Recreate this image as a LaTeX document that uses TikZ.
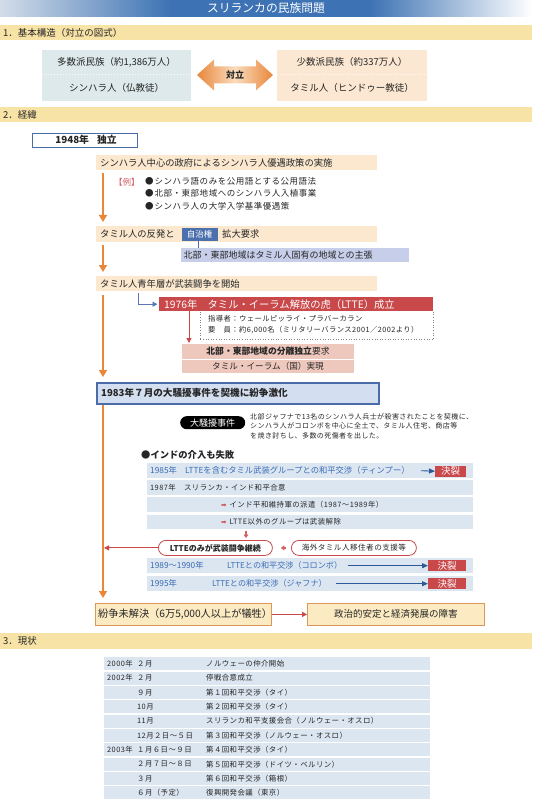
\documentclass[tikz,border=0pt]{standalone}
\usepackage{fontspec}
\setmainfont{Noto Sans CJK JP}
\newfontfamily\spc[LetterSpace=6]{Noto Sans CJK JP}
\newfontfamily\djv{DejaVu Sans}
\usetikzlibrary{arrows.meta}
\definecolor{tblue}{HTML}{3D73B4}
\definecolor{tlight}{HTML}{D3DDE9}
\definecolor{secbar}{HTML}{F8E3A6}
\definecolor{majc}{HTML}{DDE9EA}
\definecolor{minc}{HTML}{FCE8D2}
\definecolor{peach}{HTML}{FBE8CF}
\definecolor{orng}{HTML}{E8873A}
\definecolor{orlight}{HTML}{FADCBE}
\definecolor{jblue}{HTML}{4B70AD}
\definecolor{lav}{HTML}{C7CEEA}
\definecolor{ltred}{HTML}{C9484A}
\definecolor{pinkb}{HTML}{EFC8BD}
\definecolor{bfill}{HTML}{D3DEF0}
\definecolor{bline}{HTML}{4A6CA8}
\definecolor{rowb}{HTML}{DCE6F1}
\definecolor{txtblue}{HTML}{3A6CB5}
\definecolor{arrblue}{HTML}{2C5A98}
\definecolor{elbow}{HTML}{5A76B8}
\definecolor{yelb}{HTML}{FCEBC2}
\definecolor{yeld}{HTML}{D9985A}
\definecolor{exred}{HTML}{D2606A}
\definecolor{txt}{HTML}{262626}
\begin{document}
\begin{tikzpicture}[x=1pt,y=-1pt,
  every node/.style={inner sep=0pt,text=txt},
  bx/.style 2 args={anchor=north west,inner sep=0pt,minimum width=#1,minimum height=#2},
  lt/.style={anchor=west,inner sep=0pt},
  fs/.style={font=\fontsize{#1}{#1}\selectfont},
  fsb/.style={font=\fontsize{#1}{#1}\selectfont\bfseries},
  fsp/.style={font=\spc\fontsize{#1}{#1}\selectfont},
  orarrow/.style={draw=orng,line width=1.6pt,-{Triangle[width=8pt,length=7pt]}},
  rarrow/.style={draw=ltred,line width=1pt,-{Triangle[width=5pt,length=5pt]}},
  rsm/.style={draw=ltred!85,line width=1.6pt,-{Triangle[width=5pt,length=3.5pt]}},
  barrow/.style={draw=arrblue,line width=0.9pt,-{Triangle[width=5pt,length=6pt]}},
  kets/.style={fill=ltred,text=white,font=\fontsize{9.5}{9.5}\selectfont},
  rowbox/.style={bx={326}{15},fill=rowb},
  rnd/.style={bx={#1}{15},draw=ltred,line width=0.8pt,fill=white,rounded corners=7.5pt}
]
\useasboundingbox (0,0) rectangle (532,802);
\fill[white] (0,0) rectangle (532,802);

% title
\shade[left color=tlight,right color=tblue] (0,0) rectangle (170,17);
\fill[tblue] (170,0) rectangle (370,17);
\shade[left color=tblue,right color=white] (370,0) rectangle (532,17);
\node[text=white,fs=11.8] (title) at (266,8.5) {スリランカの民族問題};

% section 1
\node[bx={532}{15},fill=secbar] (sec1) at (0,25) {};
\node[lt,fs=9.5] (sec1t) at ([xshift=3pt]sec1.west) {1．基本構造（対立の図式）};

\node[bx={149}{51},fill=majc] (maj) at (42,50) {};
\node[fs=9.5] (majt) at (116.5,62) {多数派民族（約1,386万人）};
\node[fs=9.5] (majb) at (116.5,88) {シンハラ人（仏教徒）};
\draw[white,line width=1.3pt,dash pattern=on 1.3pt off 1.7pt] ([yshift=1pt]maj.west) -- ([yshift=1pt]maj.east);

\node[bx={150}{51},fill=minc] (mino) at (277,50) {};
\node[fs=9.5] (minot) at (352,62) {少数派民族（約337万人）};
\node[fs=9.5] (minob) at (352,88) {タミル人（ヒンドゥー教徒）};
\draw[white,line width=1.3pt,dash pattern=on 1.3pt off 1.7pt] ([yshift=1pt]mino.west) -- ([yshift=1pt]mino.east);

\shade[left color=orng,right color=orng,middle color=orlight]
  (197,75) -- (214,59.5) -- (214,66.5) -- (256,66.5) -- (256,59.5) -- (273,75)
  -- (256,90.5) -- (256,83.5) -- (214,83.5) -- (214,90.5) -- cycle;
\node[fsb=9] (tai) at (235,75) {対立};

% section 2
\node[bx={532}{15},fill=secbar] (sec2) at (0,107) {};
\node[lt,fs=9.5] (sec2t) at ([xshift=3pt]sec2.west) {2．経緯};

\node[bx={105}{14},fill=white,draw=bline,line width=1pt] (indep) at (32,133) {};
\node[fsb=9.8] (indept) at (86,140) {1948年\hspace{8pt}独立};

\node[bx={281}{15},fill=peach] (policy) at (96,155) {};
\node[lt,fs=9.3] (policyt) at ([xshift=4pt]policy.west) {シンハラ人中心の政府によるシンハラ人優遇政策の実施};

\node[lt,text=exred,fs=8.5] (rei) at (114,182) {【例】};
\node[anchor=north west,align=left,font=\spc\fontsize{8.5}{12.4}\selectfont] (ex) at (145,177) {●\hspace{1pt}シンハラ語のみを公用語とする公用語法\\●\hspace{1pt}北部・東部地域へのシンハラ人入植事業\\●\hspace{1pt}シンハラ人の大学入学基準優遇策};

\node[bx={281}{16},fill=peach] (react) at (96,226) {};
\node[lt,fs=9.3] (reactt) at (100,234) {タミル人の反発と};
\node[bx={36}{13},fill=jblue] (jichi) at (181.5,228) {};
\node[text=white,fs=8.5] (jichit) at (jichi.center) {自治権};
\node[lt,fs=9.3] (reactt2) at (222,234) {拡大要求};

\node[bx={228}{14},fill=lav] (claim) at (181,248) {};
\node[lt,fs=9] (claimt) at ([xshift=2.5pt]claim.west) {北部・東部地域はタミル人固有の地域との主張};
\draw[jblue,line width=0.6pt,double=white,double distance=1.8pt] (jichi.south) -- (jichi.south |- claim.north);

\node[bx={281}{15},fill=peach] (youth) at (96,276) {};
\node[lt,fs=9.3] (youtht) at ([xshift=4pt]youth.west) {タミル人青年層が武装闘争を開始};

\draw[orarrow,shorten <=3pt,shorten >=4pt] ([xshift=7pt]policy.south west) -- ([xshift=7pt]react.north west);
\draw[orarrow,shorten <=3pt,shorten >=4pt] ([xshift=7pt]react.south west) -- ([xshift=7pt]youth.north west);

\node[bx={233}{29},draw=gray,dotted,line width=0.6pt] (lead) at (200,310) {};
\node[anchor=north west,align=left,font=\spc\fontsize{7.3}{11}\selectfont] (leadt) at (208,315) {指導者：ウェールピッライ・プラバーカラン\\要　員：約6,000名（ミリタリーバランス2001／2002より）};

\node[bx={274}{14},fill=ltred] (ltte) at (159,297) {};
\node[lt,text=white,fs=10.3] (ltte_t) at ([xshift=5pt]ltte.west) {1976年　タミル・イーラム解放の虎（LTTE）成立};
\draw[elbow,line width=0.9pt,-{Triangle[width=5pt,length=5pt]},shorten <=2pt,shorten >=1.5pt] ([xshift=42pt]youth.south west) |- (ltte.west);

\node[bx={172}{29},fill=pinkb] (sep) at (182,344) {};
\draw[white,line width=1pt] ([yshift=-0.5pt]sep.west) -- ([yshift=-0.5pt]sep.east);
\node[fs=8.8] (sept) at (268,351.5) {{\bfseries 北部・東部地域の分離独立}要求};
\node[fs=8.6] (sepb) at (268,366) {タミル・イーラム（国）実現};
\draw[rarrow,shorten >=1pt] ([xshift=30pt]ltte.south west) -- ([xshift=30pt]ltte.south west |- sep.north);

\node[bx={282}{21},fill=bfill,draw=bline,line width=1.5pt] (b83) at (96,382) {};
\node[lt,fsb=9.6] (b83t) at ([xshift=5pt]b83.west) {1983年７月の大騒擾事件を契機に紛争激化};

\draw[orarrow,shorten <=4pt,shorten >=5pt] ([xshift=7pt]youth.south west) -- ([xshift=7pt]b83.north west);

\node[bx={65}{13},fill=black,rounded corners=6.5pt] (riot) at (180,416) {};
\node[text=white,fs=9] (riott) at (riot.center) {大騒擾事件};
\node[anchor=north west,align=left,font=\spc\fontsize{7}{9.7}\selectfont] (riotd) at (250,413) {北部ジャフナで13名のシンハラ人兵士が殺害されたことを契機に、\\シンハラ人がコロンボを中心に全土で、タミル人住宅、商店等\\を焼き討ちし、多数の死傷者を出した。};

\node[lt,fsb=9.3] (india) at (141,455) {●インドの介入も失敗};

\node[rowbox] (r85) at (147,463) {};
\node[lt,text=txtblue,fs=8.3] (t85) at (150,470.5) {1985年　LTTEを含むタミル武装グループとの和平交渉（ティンプー）};
\node[bx={31}{11},kets] (k85) at (435,465.5) {決裂};
\draw[barrow] ([xshift=274pt]r85.west) -- (k85.west);

\node[rowbox] (r87) at (147,480) {};
\node[lt,fsp=7.4] (t87) at (150,487.5) {1987年　スリランカ・インド和平合意};

\node[rowbox] (rpk) at (147,497) {};
\node[lt,fsp=7.4] (tpk) at (221,504.5) {{\djv\color{ltred}\fontsize{6.5}{6.5}\selectfont ➡}\hspace{3pt}インド平和維持軍の派遣（1987～1989年）};

\node[bx={326}{14},fill=rowb] (rdis) at (147,515) {};
\node[lt,fsp=7.4] (tdis) at (221,522) {{\djv\color{ltred}\fontsize{6.5}{6.5}\selectfont ➡}\hspace{3pt}LTTE以外のグループは武装解除};

\node[rnd=114,fsb=8] (only) at (158,540) {LTTEのみが武装闘争継続};
\node[rnd=125,fsp=7.6] (supp) at (291,540) {海外タミル人移住者の支援等};
\draw[rsm,shorten <=1.5pt,shorten >=2pt] ([xshift=99pt]rdis.south west) -- ([xshift=99pt]rdis.south west |- only.north);
\draw[rsm,shorten <=5pt,shorten >=8pt] (supp.west) -- (only.east);

\node[rowbox] (r89) at (147,558) {};
\node[lt,text=txtblue,fs=8.3] (y89) at (150,565.5) {1989～1990年};
\node[lt,text=txtblue,fs=8.1] (t89) at (227,565.5) {LTTEとの和平交渉（コロンボ）};
\node[bx={38}{11},kets] (k89) at (428,560) {決裂};
\draw[barrow] ([xshift=201pt]r89.west) -- (k89.west);

\node[rowbox] (r95) at (147,576) {};
\node[lt,text=txtblue,fs=8.3] (y95) at (150,583.5) {1995年};
\node[lt,text=txtblue,fs=8.1] (t95) at (212,583.5) {LTTEとの和平交渉（ジャフナ）};
\node[bx={38}{11},kets] (k95) at (428,578) {決裂};
\draw[barrow] ([xshift=189pt]r95.west) -- (k95.west);

\node[bx={176}{22},fill=yelb,draw=yeld,line width=0.8pt] (unres) at (95,603) {};
\node[lt,fs=10.2] (unrest) at ([xshift=3pt]unres.west) {紛争未解決（6万5,000人以上が犠牲）};
\node[bx={177}{22},fill=yelb,draw=yeld,line width=0.8pt] (obst) at (307,603) {};
\node[fs=9.5] (obstt) at (obst.center) {政治的安定と経済発展の障害};
\draw[rarrow] (unres.east) -- (obst.west);

\coordinate (ml) at ([xshift=7pt]b83.south west);
\draw[orarrow,shorten >=5pt] (ml) -- ([xshift=8pt]unres.north west);
\draw[rarrow] (only.west) -- ([xshift=1pt]only.west -| ml);

% section 3
\node[bx={532}{16},fill=secbar] (sec3) at (0,633) {};
\node[lt,fs=9.5] (sec3t) at ([xshift=3pt]sec3.west) {3．現状};

\foreach \i/\yr/\mo/\ev in {
 1/2000年/２月/ノルウェーの仲介開始,
 2/2002年/２月/停戦合意成立,
 3//９月/第１回和平交渉（タイ）,
 4//10月/第２回和平交渉（タイ）,
 5//11月/スリランカ和平支援会合（ノルウェー・オスロ）,
 6//12月２日～５日/第３回和平交渉（ノルウェー・オスロ）,
 7/2003年/１月６日～９日/第４回和平交渉（タイ）,
 8//２月７日～８日/第５回和平交渉（ドイツ・ベルリン）,
 9//３月/第６回和平交渉（箱根）,
 10//６月（予定）/復興開発会議（東京）}{
  \pgfmathsetmacro\yy{657+(\i-1)*14.35}
  \node[bx={326}{13.1},fill=rowb] (tr\i) at (104,\yy) {};
  \node[lt,fsp=7.4] (ty\i) at ([xshift=3pt]tr\i.west) {\yr};
  \node[lt,fsp=7.4] (tm\i) at ([xshift=33pt]tr\i.west) {\mo};
  \node[lt,fsp=7.4] (te\i) at ([xshift=102pt]tr\i.west) {\ev};
}
\end{tikzpicture}
\end{document}
